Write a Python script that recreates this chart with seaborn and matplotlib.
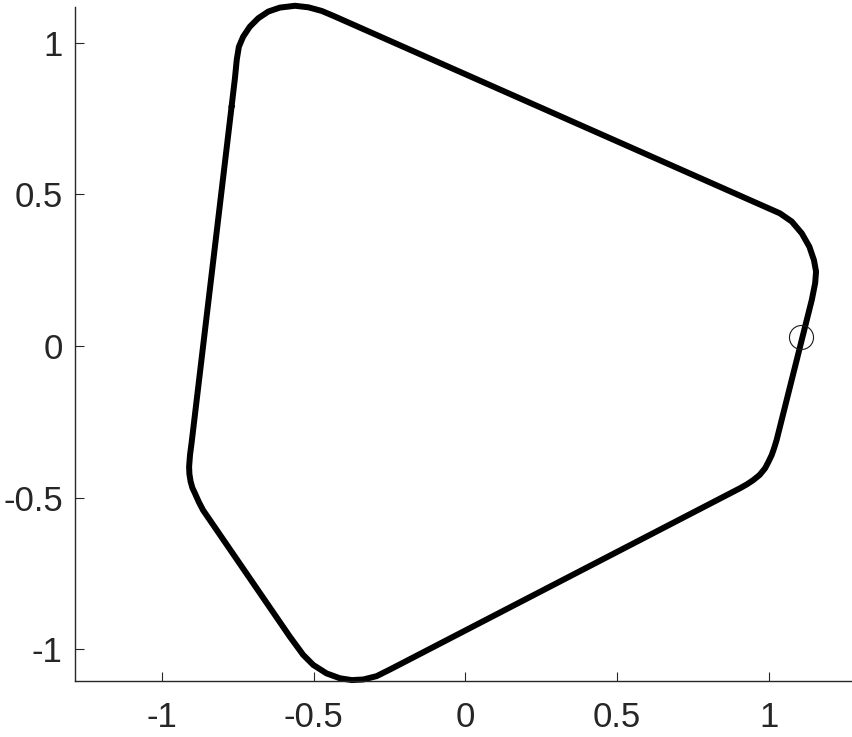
import matplotlib
matplotlib.use("Agg")
import matplotlib.pyplot as plt
import seaborn as sns
import pandas as pd

# Closed rounded-pentagon curve (data coords)
curve_x = [-0.770, -0.759, -0.753, -0.746, -0.732, -0.710, -0.682, -0.649, -0.611, -0.561,
           -0.517, -0.473, -0.435,
           1.037, 1.076, 1.109, 1.134, 1.149, 1.156, 1.153, 1.142,
           1.026, 1.018, 1.010, 0.999, 0.988, 0.970, 0.949, 0.928, 0.905,
           -0.215, -0.248, -0.292, -0.336, -0.374, -0.413, -0.457, -0.501, -0.534, -0.578,
           -0.864, -0.878, -0.891, -0.899, -0.905, -0.909, -0.910, -0.907, -0.902,
           -0.770]
curve_y = [0.789, 0.882, 0.943, 0.986, 1.019, 1.052, 1.080, 1.102, 1.115, 1.121,
           1.116, 1.104, 1.088,
           0.437, 0.410, 0.371, 0.327, 0.283, 0.245, 0.207, 0.152,
           -0.310, -0.336, -0.359, -0.382, -0.403, -0.425, -0.442, -0.456, -0.469,
           -1.049, -1.066, -1.088, -1.099, -1.101, -1.095, -1.079, -1.051, -1.018, -0.958,
           -0.541, -0.514, -0.485, -0.468, -0.447, -0.422, -0.398, -0.359, -0.321,
           0.789]

# Marked point
marker_x = [1.106]
marker_y = [0.031]

x_ticks = [-1, -0.5, 0, 0.5, 1]
x_tick_labels = ["-1", "-0.5", "0", "0.5", "1"]
y_ticks = [-1, -0.5, 0, 0.5, 1]
y_tick_labels = ["-1", "-0.5", "0", "0.5", "1"]

sns.set_style("ticks")
plt.rcParams["font.family"] = ["Liberation Sans", "DejaVu Sans"]

fig = plt.figure(figsize=(8.53, 7.37), dpi=100)
ax = fig.add_axes([75.3 / 853, 55.7 / 737, 778.4 / 853, 674.3 / 737])

df = pd.DataFrame({"x": curve_x, "y": curve_y})
sns.lineplot(data=df, x="x", y="y", sort=False, estimator=None, ax=ax,
             color="black", linewidth=4.3, solid_joinstyle="round",
             solid_capstyle="round", clip_on=False)
ax.plot(marker_x, marker_y, marker="o", linestyle="none", markersize=17.3,
        markerfacecolor="none", markeredgecolor="#1a1a1a", markeredgewidth=0.8)

ax.set_xlim(-1.285, 1.28)
ax.set_ylim(-1.105, 1.117)
ax.set_xticks(x_ticks)
ax.set_xticklabels(x_tick_labels)
ax.set_yticks(y_ticks)
ax.set_yticklabels(y_tick_labels)
ax.set_xlabel("")
ax.set_ylabel("")

for side in ["top", "right"]:
    ax.spines[side].set_visible(False)
for side in ["left", "bottom"]:
    ax.spines[side].set_color("#262626")
    ax.spines[side].set_linewidth(1.0)

ax.tick_params(direction="in", length=6.5, width=0.8, color="#262626",
               labelsize=25, labelcolor="#262626")
ax.tick_params(axis="x", pad=14)
ax.tick_params(axis="y", pad=9)
ax.grid(False)

fig.savefig("out.png", dpi=100, facecolor="white")
